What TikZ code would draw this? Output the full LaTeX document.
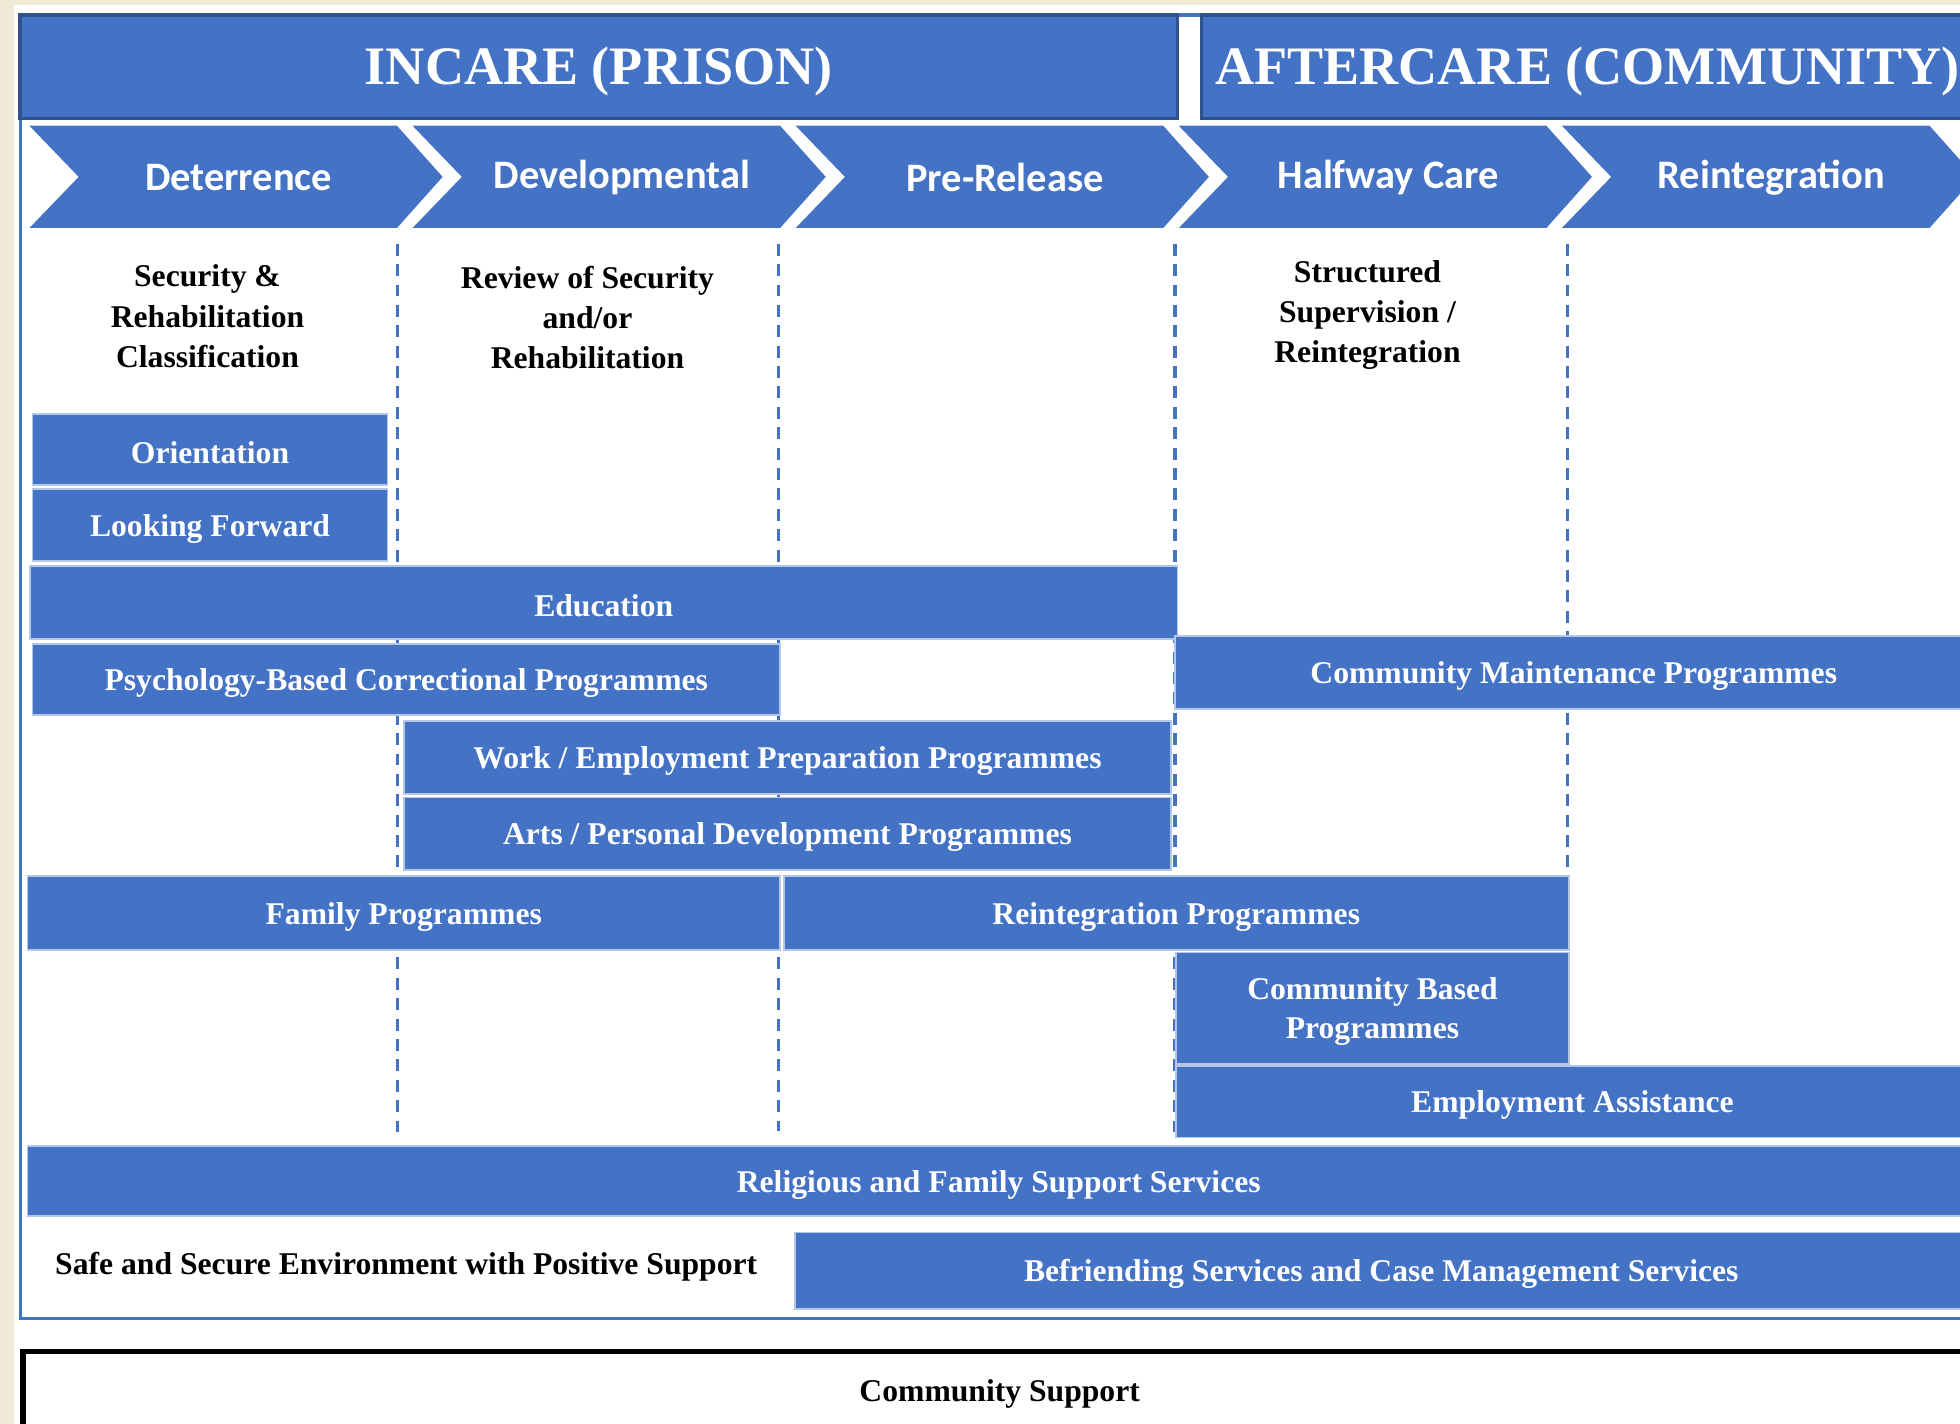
\documentclass[tikz,border=0pt]{standalone}
\usepackage{fontspec}
\setmainfont{Liberation Serif}
\newfontfamily\chevfont{Carlito}
\usepackage{tikz}

\definecolor{ocblue}{HTML}{4472C4}
\definecolor{ocdark}{HTML}{2F528F}
\definecolor{ocpale}{HTML}{B4C7E7}
\definecolor{cream}{HTML}{EEEAD5}

\begin{document}
\begin{tikzpicture}[x=0.0125cm, y=-0.0125cm]
\tikzstyle{head} = [draw=ocdark, line width=0.9pt, fill=ocblue]
\tikzstyle{headtext} = [text=white, yshift=-1.4pt, font=\bfseries\fontsize{15.4}{18}\selectfont]
\tikzstyle{chev} = [fill=ocblue, draw=white, line width=0.4pt]
\tikzstyle{chevtext} = [text=white, yshift=-0.3pt, font=\chevfont\bfseries\fontsize{11.5}{14}\selectfont]
\tikzstyle{bar} = [fill=ocblue, draw=ocpale, line width=0.5pt]
\tikzstyle{bartext} = [text=white, align=center, yshift=-1pt, font=\bfseries\fontsize{9}{11.2}\selectfont]
\tikzstyle{plain} = [text=black, align=center, font=\bfseries\fontsize{9}{11.4}\selectfont]
\tikzstyle{sep} = [draw=ocblue, line width=0.9pt, dash pattern=on 3.4pt off 2.4pt]

\useasboundingbox (0,0) rectangle (1568,1139);
\clip (0,0) rectangle (1568,1139);
\fill[cream] (0,0) rectangle (1568,1139);
\fill[white] (11,4) rectangle (1568,1139);

% frame round the two stages
\draw[ocblue, line width=0.9pt] (16.5,12) rectangle (1600,1055);

% stage headers
\draw[head] (16,12) rectangle (942,95) node[midway, headtext] (incare) {INCARE (PRISON)};
\draw[head] (961,12) rectangle (1579,95) node[midway, headtext] (aftercare) {AFTERCARE (COMMUNITY)};

% the five phases
\foreach \i/\lab in {0/Deterrence,1/Developmental,2/Pre-Release,3/Halfway Care,4/Reintegration} {
  \pgfmathsetmacro\L{22+306.5*\i}
  \draw[chev] (\L,100) -- ++(296,0) -- ++(37,41.5) -- ++(-37,41.5) -- ++(-296,0) -- ++(40,-41.5) -- cycle;
  \node[chevtext] (phase\i) at (\L+169,141.5) {\lab};
}

% dashed phase borders
\foreach \x/\yend in {318/910, 623/905, 940/910, 1254/701}
  \draw[sep] (\x,195) -- (\x,\yend);

\node[plain] (secclass) at (166,253) {Security \&\\Rehabilitation\\Classification};
\node[plain] (review) at (470,254) {Review of Security\\and/or\\Rehabilitation};
\node[plain] (structsup) at (1094,252) {Structured\\Supervision /\\Reintegration};

% programmes
\draw[bar] (26,331) rectangle (310,388) node[midway, bartext] (orient) {Orientation};
\draw[bar] (26,391) rectangle (310,449) node[midway, bartext] (lookfwd) {Looking Forward};
\draw[bar] (24,453) rectangle (942,511) node[midway, bartext] (educ) {Education};
\draw[bar] (26,515) rectangle (624,572) node[midway, bartext] (psych) {Psychology-Based Correctional Programmes};
\draw[bar] (940,509) rectangle (1578,567) node[midway, bartext] (commaint) {Community Maintenance Programmes};
\draw[bar] (323,577) rectangle (937,635) node[midway, bartext] (workprep) {Work / Employment Preparation Programmes};
\draw[bar] (323,638) rectangle (937,696) node[midway, bartext] (arts) {Arts / Personal Development Programmes};
\draw[bar] (22,701) rectangle (624,760) node[midway, bartext] (family) {Family Programmes};
\draw[bar] (627,701) rectangle (1255,760) node[midway, bartext] (reintprog) {Reintegration Programmes};
\draw[bar] (941,762) rectangle (1255,851) node[midway, bartext] (combased) {Community Based\\Programmes};
\draw[bar] (941,853) rectangle (1575,910) node[midway, bartext] (employ) {Employment Assistance};
\draw[bar] (22,917) rectangle (1576,973) node[midway, bartext] (religious) {Religious and Family Support Services};
\node[plain] (safeenv) at (325,1013) {Safe and Secure Environment with Positive Support};
\draw[bar] (636,986) rectangle (1574,1047) node[midway, bartext] (befriend) {Befriending Services and Case Management Services};

% community support below the frame
\draw[black, line width=1.5pt] (18.5,1081) rectangle (1581,1143) node[midway, plain, yshift=-1pt] (commsupport) {Community Support};
\end{tikzpicture}
\end{document}
